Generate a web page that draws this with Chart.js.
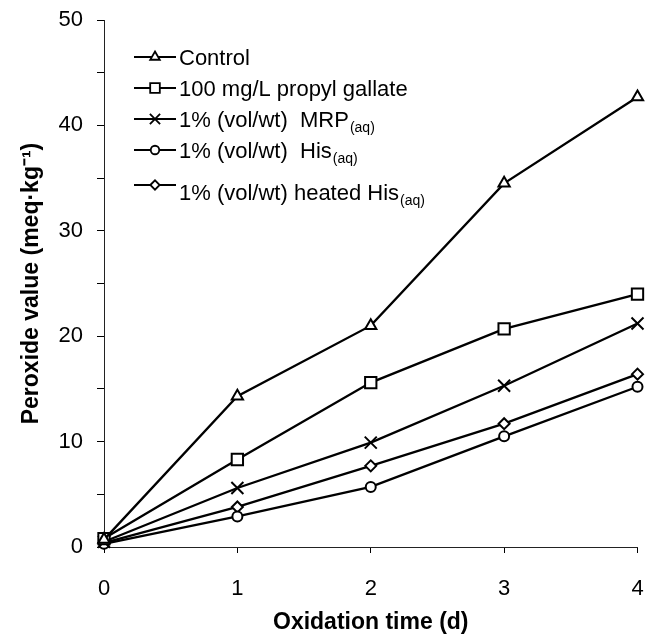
<!DOCTYPE html>
<html lang="en">
<head>
  <meta charset="UTF-8">
  <title>Peroxide value vs oxidation time</title>
  <script src="https://cdn.jsdelivr.net/npm/chart.js"></script>
  <style>
    body { margin: 0; background: #fff; }
  </style>
</head>
<body>
  <canvas id="pvChart" width="648" height="640"></canvas>

  <script>
    // data
    const days = [0, 1, 2, 3, 4];
    const control = [0.7, 14.3, 21.0, 34.5, 42.7];
    const propylGallate = [0.8, 8.3, 15.6, 20.7, 24.0];
    const mrp = [0.5, 5.6, 9.9, 15.3, 21.2];
    const his = [0.3, 2.9, 5.7, 10.5, 15.2];
    const heatedHis = [0.4, 3.8, 7.7, 11.7, 16.4];

    const legendMain = ['Control', '100 mg/L propyl gallate', '1% (vol/wt)  MRP', '1% (vol/wt)  His', '1% (vol/wt) heated His'];
    const legendSub = ['', '', '(aq)', '(aq)', '(aq)'];
    const yTicks = [0, 10, 20, 30, 40, 50];
    const xTicks = [0, 1, 2, 3, 4];

    const FONT = "'Liberation Sans', Arial, sans-serif";

    function pts(values) {
      return days.map((d, i) => ({ x: d, y: values[i] }));
    }

    function series(label, values, style, radius) {
      return {
        label: label,
        data: pts(values),
        borderColor: '#000',
        borderWidth: 2.3,
        tension: 0,
        pointStyle: style,
        pointRadius: radius,
        pointBorderWidth: 2,
        pointBorderColor: '#000',
        pointBackgroundColor: '#fff',
        clip: false
      };
    }

    // legend drawn by hand so the (aq) subscripts work
    const legendRows = [57, 88, 119, 150, 185];
    const legendPlugin = {
      id: 'subLegend',
      afterDatasetsDraw(chart) {
        const ctx = chart.ctx;
        ctx.save();
        chart.data.datasets.forEach((ds, i) => {
          const y = legendRows[i];
          ctx.strokeStyle = '#000';
          ctx.lineWidth = 1.8;
          ctx.beginPath();
          ctx.moveTo(134, y);
          ctx.lineTo(176, y);
          ctx.stroke();
          ctx.fillStyle = '#fff';
          Chart.helpers.drawPoint(ctx, {
            pointStyle: ds.pointStyle,
            radius: ds.pointRadius * 0.85,
            borderWidth: 2,
            rotation: 0
          }, 155, y);
          ctx.fillStyle = '#000';
          ctx.font = '22px ' + FONT;
          ctx.textBaseline = 'alphabetic';
          const ty = i === 4 ? y + 15 : y + 8;
          ctx.fillText(legendMain[i], 179, ty);
          if (legendSub[i]) {
            const w = ctx.measureText(legendMain[i]).width;
            ctx.font = '14px ' + FONT;
            ctx.fillText(legendSub[i], 179 + w + 1, ty + 5);
          }
        });
        ctx.restore();
      }
    };

    const ctx = document.getElementById('pvChart').getContext('2d');
    const chart = new Chart(ctx, {
      type: 'line',
      data: {
        datasets: [
          series(legendMain[0], control, 'triangle', 6.5),
          series(legendMain[1], propylGallate, 'rect', 8),
          series(legendMain[2], mrp, 'crossRot', 8.5),
          series(legendMain[3], his, 'circle', 5),
          series(legendMain[4], heatedHis, 'rectRot', 5.5)
        ]
      },
      options: {
        responsive: false,
        animation: false,
        layout: { padding: { top: 20, right: 6, left: 0, bottom: 0 } },
        plugins: {
          legend: { display: false },
          tooltip: { enabled: false }
        },
        scales: {
          x: {
            type: 'linear',
            min: 0,
            max: 4,
            afterBuildTicks: (s) => { s.ticks = xTicks.map(v => ({ value: v })); },
            afterFit: (s) => { s.height = 93; s.paddingLeft = 0; s.paddingRight = 0; },
            ticks: {
              color: '#000',
              font: { family: FONT, size: 22 },
              padding: 23
            },
            grid: { drawOnChartArea: false, drawTicks: true, tickLength: 6, color: '#000' },
            border: { display: true, color: '#222', width: 1 },
            title: {
              display: true,
              text: 'Oxidation time (d)',
              color: '#000',
              font: { family: FONT, size: 23, weight: 'bold' },
              padding: { top: 0, bottom: 4 }
            }
          },
          y: {
            min: 0,
            max: 50,
            ticks: {
              stepSize: 5,
              color: '#000',
              font: { family: FONT, size: 22 },
              padding: 14,
              callback: (v) => yTicks.includes(v) ? v : ''
            },
            afterFit: (s) => { s.width = 104; s.paddingTop = 0; s.paddingBottom = 0; },
            grid: { drawOnChartArea: false, drawTicks: true, tickLength: 7, color: '#000' },
            border: { display: true, color: '#222', width: 1 },
            title: {
              display: true,
              text: 'Peroxide value (meq·kg⁻¹)',
              color: '#000',
              font: { family: FONT, size: 23, weight: 'bold' },
              padding: { top: 18, bottom: 0 }
            }
          }
        }
      },
      plugins: [legendPlugin]
    });
  </script>
</body>
</html>
